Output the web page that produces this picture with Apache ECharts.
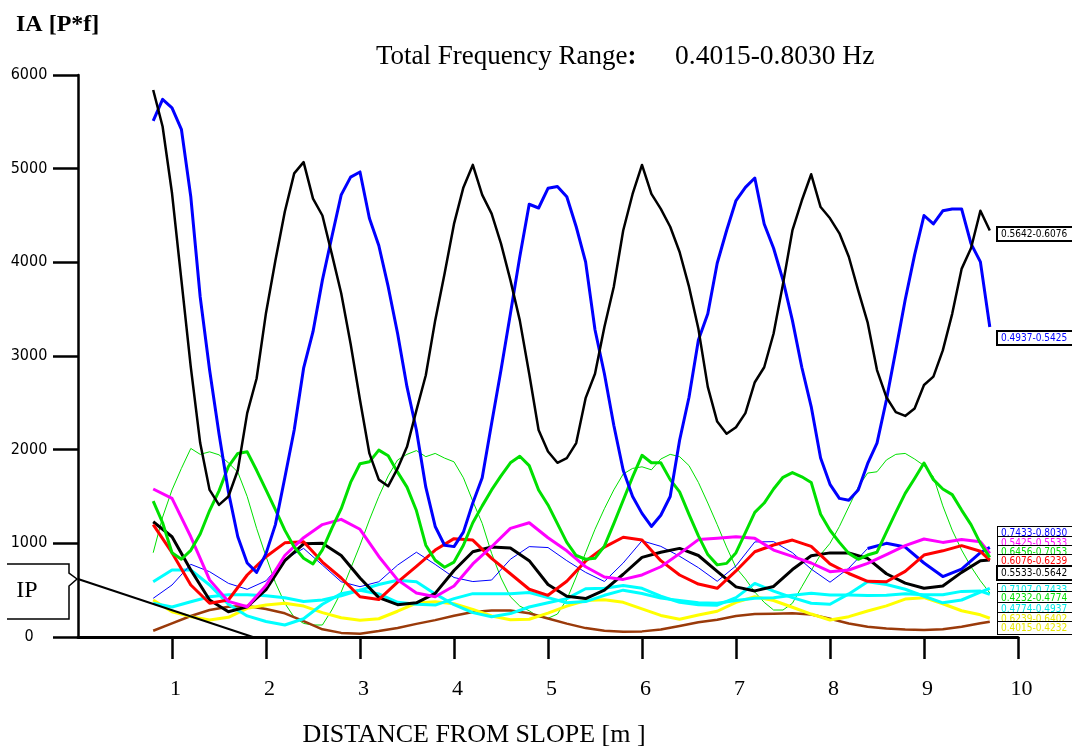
<!DOCTYPE html>
<html><head><meta charset="utf-8">
<script src="https://cdn.jsdelivr.net/npm/echarts@6.0.0/dist/echarts.min.js"></script>
<style>html,body{margin:0;padding:0;background:#fff}#main{width:1072px;height:749px}</style>
</head><body><div id="main"></div>
<script>
// ---------------- DATA ----------------
const xTickValues = [1,2,3,4,5,6,7,8,9,10];
const yTickValues = [0,1000,2000,3000,4000,5000,6000];

const xsFine = [0.8,0.9,1.0,1.1,1.2,1.3,1.4,1.5,1.6,1.7,
  1.8,1.9,2.0,2.1,2.2,2.3,2.4,2.5,2.6,2.7,
  2.8,2.9,3.0,3.1,3.2,3.3,3.4,3.5,3.6,3.7,
  3.8,3.9,4.0,4.1,4.2,4.3,4.4,4.5,4.6,4.7,
  4.8,4.9,5.0,5.1,5.2,5.3,5.4,5.5,5.6,5.7,
  5.8,5.9,6.0,6.1,6.2,6.3,6.4,6.5,6.6,6.7,
  6.8,6.9,7.0,7.1,7.2,7.3,7.4,7.5,7.6,7.7,
  7.8,7.9,8.0,8.1,8.2,8.3,8.4,8.5,8.6,8.7,
  8.8,8.9,9.0,9.1,9.2,9.3,9.4,9.5,9.6,9.7];

const xsCoarse = [0.8,1.0,1.2,1.4,1.6,1.8,2.0,2.2,2.4,2.6,
  2.8,3.0,3.2,3.4,3.6,3.8,4.0,4.2,4.4,4.6,
  4.8,5.0,5.2,5.4,5.6,5.8,6.0,6.2,6.4,6.6,
  6.8,7.0,7.2,7.4,7.6,7.8,8.0,8.2,8.4,8.6,
  8.8,9.0,9.2,9.4,9.6,9.7];

// 0.5642-0.6076 (black, large)
const band_5642_6076 = [5840,5450,4740,3810,2880,2070,1570,1410,1500,1780,
  2390,2760,3460,4020,4540,4950,5070,4680,4500,4090,
  3670,3130,2530,1960,1680,1610,1800,2030,2420,2795,
  3380,3880,4410,4800,5040,4720,4520,4200,3810,3380,
  2810,2210,1980,1860,1910,2070,2550,2810,3310,3740,
  4340,4730,5040,4730,4570,4380,4110,3740,3290,2670,
  2300,2170,2240,2390,2720,2880,3240,3770,4340,4660,
  4940,4590,4470,4310,4060,3700,3360,2850,2560,2400,
  2360,2440,2690,2780,3060,3450,3930,4150,4550,4340];

// 0.4937-0.5425 (blue, large)
const band_4937_5425 = [5510,5740,5650,5420,4700,3630,2850,2170,1550,1070,
  790,690,890,1200,1700,2210,2870,3260,3810,4270,
  4720,4910,4965,4470,4180,3740,3240,2670,2210,1600,
  1180,980,965,1120,1430,1700,2280,2850,3450,4060,
  4620,4580,4790,4810,4700,4380,4005,3280,2810,2260,
  1780,1500,1320,1180,1300,1500,2100,2560,3170,3450,
  3990,4340,4660,4800,4900,4410,4150,3810,3380,2880,
  2460,1910,1630,1480,1460,1570,1850,2070,2530,3060,
  3600,4080,4500,4410,4550,4570,4570,4200,4005,3310];

// 0.6456-0.7053 (green thick)
const band_6456_7053 = [1450,1220,900,830,925,1100,1350,1560,1820,1960,
  1977,1780,1570,1360,1141,960,840,780,930,1160,
  1370,1650,1850,1870,1995,1935,1760,1600,1350,980,
  820,745,800,980,1220,1400,1570,1720,1860,1930,
  1830,1570,1410,1210,1010,870,830,840,970,1210,
  1460,1710,1940,1860,1860,1680,1550,1310,1080,880,
  770,786,900,1115,1330,1430,1580,1705,1755,1710,
  1650,1310,1140,1010,893,830,875,905,1120,1330,
  1533,1693,1857,1680,1580,1520,1355,1200,1000,850];

// 0.4232-0.4774 (green thin)
const band_4232_4774 = [900,1280,1570,1800,2013,1950,1977,1945,1860,1760,
  1500,1160,860,580,360,210,145,128,128,288,
  480,730,980,1250,1500,1720,1890,1950,1990,1925,
  1960,1910,1870,1700,1450,1213,893,630,430,330,
  280,214,200,245,400,640,900,1150,1370,1570,
  1740,1800,1817,1785,1900,1950,1925,1830,1650,1430,
  1200,960,740,620,480,370,288,288,360,537,
  710,880,1000,1180,1390,1600,1750,1764,1890,1950,
  1960,1900,1830,1710,1400,1141,928,750,600,470];

// coarse-step series
const band_5425_5533 = [1580,1480,1070,610,380,323,550,870,1060,1200,
  1256,1150,860,610,470,430,545,780,964,1160,
  1220,1060,920,750,640,615,662,750,890,1040,
  1053,1070,1053,928,860,790,697,715,786,880,
  975,1046,1010,1040,1017,893];
const band_6076_6239 = [1200,900,555,360,395,662,857,1005,1017,800,
  630,430,400,585,755,928,1050,1035,840,675,
  510,445,595,810,960,1065,1035,815,662,565,
  520,705,910,982,1035,968,780,678,595,590,
  700,875,920,975,915,821];
const band_5533_5642 = [1230,1070,715,395,270,323,505,815,995,1000,
  870,630,420,345,365,466,710,910,960,950,
  815,560,435,410,500,670,850,905,946,870,
  700,535,492,540,720,868,898,898,840,675,
  575,520,545,690,815,821];
const band_7433_8030 = [413,555,776,697,573,509,600,830,946,768,
  590,537,590,768,905,775,635,592,608,830,
  965,955,815,690,593,790,1027,968,862,740,
  595,760,1015,1018,900,725,585,735,945,1000,
  960,790,645,725,900,957];
const band_7107_7433 = [590,715,715,555,350,225,165,128,195,350,
  463,500,460,370,350,341,410,463,462,462,
  475,420,365,378,445,500,465,415,390,365,
  360,390,413,420,445,466,448,448,442,445,
  462,450,450,487,490,455];
const band_4774_4937 = [360,320,377,430,450,450,440,420,380,395,
  440,500,560,605,590,460,345,260,217,250,
  320,365,410,515,520,550,520,435,370,345,
  340,420,572,490,420,360,350,460,590,560,
  510,435,365,395,480,520];
const band_6239_6402 = [395,270,217,181,210,306,341,360,330,260,
  205,178,195,275,362,377,355,295,225,185,
  189,255,330,390,397,370,300,230,190,235,
  275,370,430,390,318,245,181,217,278,332,
  405,420,355,280,237,200];
const band_brown = [67,146,224,288,323,331,298,253,170,82,
  44,35,63,97,140,180,227,266,283,284,
  253,197,143,95,67,57,60,81,118,157,
  185,225,245,248,253,240,195,145,110,90,
  80,75,82,110,146,163];

// IP reference line (x, value)
const ipLine = [[0, 620], [1.86, 0]];

const bandLabelTexts = ['0.5642-0.6076','0.4937-0.5425','0.7433-0.8030','0.5425-0.5533',
  '0.6456-0.7053','0.6076-0.6239','0.5533-0.5642','0.7107-0.7433','0.4232-0.4774',
  '0.4774-0.4937','0.6239-0.6402','0.4015-0.4232'];

// ---------------- STYLE / LAYOUT ----------------
const NARROW = "'Liberation Sans Narrow','Arial Narrow','DejaVu Sans Condensed',sans-serif";
const SERIF = "'Liberation Serif','Times New Roman',serif";
const labelColors = ['#000000','#0000ff','#0000ff','#ff00ff','#00e000','#ff0000','#000000','#00e8e8','#00e000','#00e8e8','#e8e800','#e8e800'];
const labelCenters = [234,338,533,543,552,561,573,590,598,609,619,628];

const pair = (xs, vs) => xs.map((x, i) => [x, vs[i]]);
function line(name, data, color, width, z) {
  return { name, type: 'line', data, symbol: 'none', silent: true, z: z || 2,
    lineStyle: { color, width, join: 'round' }, itemStyle: { color } };
}
const blueThinSplit = 38;
const seriesList = [
  line('0.4232-0.4774', pair(xsFine, band_4232_4774), '#00e000', 1, 2),
  line('brown', pair(xsCoarse, band_brown), '#9a3a0a', 2.5, 3),
  line('0.6239-0.6402', pair(xsCoarse, band_6239_6402), '#ffff00', 3, 3),
  line('0.4774-0.4937', pair(xsCoarse, band_4774_4937), '#00ffff', 3, 3),
  line('0.7107-0.7433', pair(xsCoarse, band_7107_7433), '#00ffff', 3, 3),
  line('0.7433-0.8030', pair(xsCoarse, band_7433_8030).slice(0, blueThinSplit + 1), '#0000ff', 1, 4),
  line('0.7433-0.8030b', pair(xsCoarse, band_7433_8030).slice(blueThinSplit), '#0000ff', 3, 4),
  line('0.5533-0.5642', pair(xsCoarse, band_5533_5642), '#000000', 3, 4),
  line('0.6076-0.6239', pair(xsCoarse, band_6076_6239), '#ff0000', 3, 4),
  line('0.5425-0.5533', pair(xsCoarse, band_5425_5533), '#ff00ff', 3, 4),
  line('0.6456-0.7053', pair(xsFine, band_6456_7053), '#00e000', 3, 5),
  line('0.4937-0.5425', pair(xsFine, band_4937_5425), '#0000ff', 3, 5),
  line('0.5642-0.6076', pair(xsFine, band_5642_6076), '#000000', 2.5, 6),
  line('IP', ipLine, '#000000', 2, 6)
];

const graphics = [
  { type: 'text', left: 16, top: 13, style: { text: 'IA [P*f]', font: 'bold 24px ' + SERIF, fill: '#000' } },
  { type: 'text', x: 376, y: 57, style: {
      text: '{a|Total Frequency Range}{b|:}', verticalAlign: 'middle',
      rich: { a: { font: '27px ' + SERIF, fill: '#000' }, b: { font: 'bold 27px ' + SERIF, fill: '#000' } } } },
  { type: 'text', x: 675, y: 57, style: { text: '0.4015-0.8030 Hz', font: '27.5px ' + SERIF, fill: '#000', verticalAlign: 'middle' } },
  { type: 'text', x: 474, y: 735, style: { text: 'DISTANCE FROM SLOPE [m ]', font: '26px ' + SERIF, fill: '#000', align: 'center', verticalAlign: 'middle' } },
  { type: 'polyline', shape: { points: [[7,564],[69,564],[69,573],[77,579],[69,586],[69,619],[7,619]] },
    style: { stroke: '#000', lineWidth: 1.5, fill: null } },
  { type: 'text', x: 27, y: 591, style: { text: 'IP', font: '24px ' + SERIF, fill: '#000', align: 'center', verticalAlign: 'middle' } }
];
bandLabelTexts.forEach((t, i) => {
  graphics.push({ type: 'text', x: 998, y: labelCenters[i], z: 100 + i,
    style: { text: t, font: '10px ' + NARROW, fill: labelColors[i], verticalAlign: 'middle',
      backgroundColor: '#fff', borderColor: '#000', borderWidth: (labelColors[i] === '#000000' || i === 1) ? 2 : 1,
      padding: [1, 8, 1, 3] } });
});

const chart = echarts.init(document.getElementById('main'), null, { renderer: 'canvas' });
chart.setOption({
  animation: false,
  backgroundColor: '#fff',
  grid: { left: 78, right: 54, top: 75, bottom: 112, containLabel: false },
  xAxis: {
    type: 'value', min: 0, max: 10, interval: 1,
    axisLine: { show: true, onZero: false, lineStyle: { color: '#000', width: 3 } },
    axisTick: { show: true, length: 22, customValues: xTickValues, lineStyle: { color: '#000', width: 2.5 } },
    axisLabel: { customValues: xTickValues, color: '#000', fontFamily: SERIF, fontSize: 22, margin: 41, padding: [0, 0, 0, 7],
      formatter: v => String(v) },
    splitLine: { show: false }
  },
  yAxis: {
    type: 'value', min: 0, max: 6000, interval: 1000,
    axisLine: { show: true, lineStyle: { color: '#000', width: 2.5 } },
    axisTick: { show: true, length: 25, customValues: yTickValues, lineStyle: { color: '#000', width: 2.5 } },
    axisLabel: { customValues: yTickValues, color: '#000', fontFamily: NARROW, fontSize: 16, align: 'center', margin: 49,
      formatter: v => String(v) },
    splitLine: { show: false }
  },
  series: seriesList,
  graphic: graphics
});
</script></body></html>
